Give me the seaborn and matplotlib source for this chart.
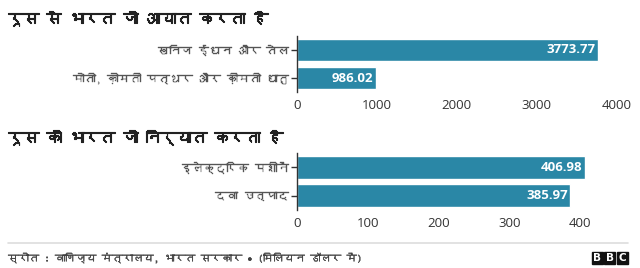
import matplotlib
matplotlib.use("Agg")
import matplotlib.pyplot as plt
import matplotlib.patheffects as pe
import seaborn as sns
import pandas as pd
from matplotlib import font_manager
from matplotlib.ft2font import FT2Font
from matplotlib.patches import Rectangle

# ---------------- data ----------------
title_import = "रूस से भारत जो आयात करता है"
import_categories = ["खनिज ईंधन और तेल", "मोती, क़ीमती पत्थर और क़ीमती धातु"]
import_values = [3773.77, 986.02]
import_ticks = [0, 1000, 2000, 3000, 4000]

title_export = "रूस को भारत जो निर्यात करता है"
export_categories = ["इलेक्ट्रिक मशीनें", "दवा उत्पाद"]
export_values = [406.98, 385.97]
export_ticks = [0, 100, 200, 300, 400]

source_text = "स्रोत : वाणिज्य मंत्रालय, भारत सरकार • (मिलियन डॉलर में)"

# ---------------- fonts ----------------
sns.set_theme(style="white")
deva = []
for f in font_manager.fontManager.ttflist:
    try:
        cm = FT2Font(f.fname).get_charmap()
        if 0x0915 in cm and f.name not in deva:
            deva.append(f.name)
    except Exception:
        pass
families = deva + ["Open Sans", "DejaVu Sans"]
plt.rcParams["font.family"] = families

BAR = "#2a87a6"

fig = plt.figure(figsize=(6.4, 2.68), dpi=100)
W, H = 640, 268


def ax_rect(left, top, right, bottom):
    return [left / W, 1 - bottom / H, (right - left) / W, (bottom - top) / H]


def draw(ax, cats, vals, ticks, xmax):
    df = pd.DataFrame({"cat": cats, "val": vals})
    sns.barplot(data=df, x="val", y="cat", orient="h", color=BAR,
                saturation=1, width=0.8, ax=ax)
    ax.set_xlim(0, xmax)
    ax.set_ylim(1.5, -0.5)
    ax.set_xticks(ticks)
    ax.set_xticklabels([str(t) for t in ticks], fontsize=9.5, color="#333333",
                       family=["Open Sans", "DejaVu Sans"])
    ax.set_xlabel("")
    ax.set_ylabel("")
    for lab in ax.get_yticklabels():
        lab.set_fontsize(8.2)
        lab.set_color("#555555")
        lab.set_path_effects([pe.withStroke(linewidth=0.25, foreground="#555555")])
    for s in ["top", "right", "bottom"]:
        ax.spines[s].set_visible(False)
    ax.spines["left"].set_color("#333333")
    ax.spines["left"].set_linewidth(1.0)
    ax.tick_params(axis="y", length=4, width=1, color="#333333", pad=2, left=True)
    ax.tick_params(axis="x", length=0, pad=5)
    for p, v in zip(ax.patches, vals):
        ax.text(p.get_width() - xmax * 0.008, p.get_y() + p.get_height() / 2,
                f"{v:.2f}", ha="right", va="center", color="white",
                fontsize=9.5, fontweight="bold",
                family=["Open Sans", "DejaVu Sans"])


ax1 = fig.add_axes(ax_rect(297, 36, 617, 92))
draw(ax1, import_categories, import_values, import_ticks, 4010)

ax2 = fig.add_axes(ax_rect(297, 153, 617, 210))
draw(ax2, export_categories, export_values, export_ticks, 452)

bold = [pe.withStroke(linewidth=0.8, foreground="#222222")]
fig.text(8 / W, 1 - 18 / H, title_import, fontsize=11, fontweight="bold",
         color="#222222", va="center", ha="left", path_effects=bold)
fig.text(8 / W, 1 - 137 / H, title_export, fontsize=11, fontweight="bold",
         color="#222222", va="center", ha="left", path_effects=bold)

# footer
fig.add_artist(plt.Line2D([8 / W, 628 / W], [1 - 243 / H, 1 - 243 / H],
                          color="#dddddd", linewidth=1.2))
fig.text(8 / W, 1 - 258 / H, source_text, fontsize=7.5, color="#404040",
         va="center", ha="left",
         path_effects=[pe.withStroke(linewidth=0.2, foreground="#404040")])

# BBC blocks
bx = 592
for i, letter in enumerate("BBC"):
    x0 = bx + i * 12.3
    fig.add_artist(Rectangle((x0 / W, 1 - 264 / H), 11 / W, 12 / H,
                             transform=fig.transFigure, color="#111111"))
    fig.text((x0 + 5.5) / W, 1 - 258 / H, letter, color="white", fontsize=7.5,
             fontweight="bold", ha="center", va="center",
             family=["DejaVu Sans"])

fig.savefig("out.png", dpi=100)
